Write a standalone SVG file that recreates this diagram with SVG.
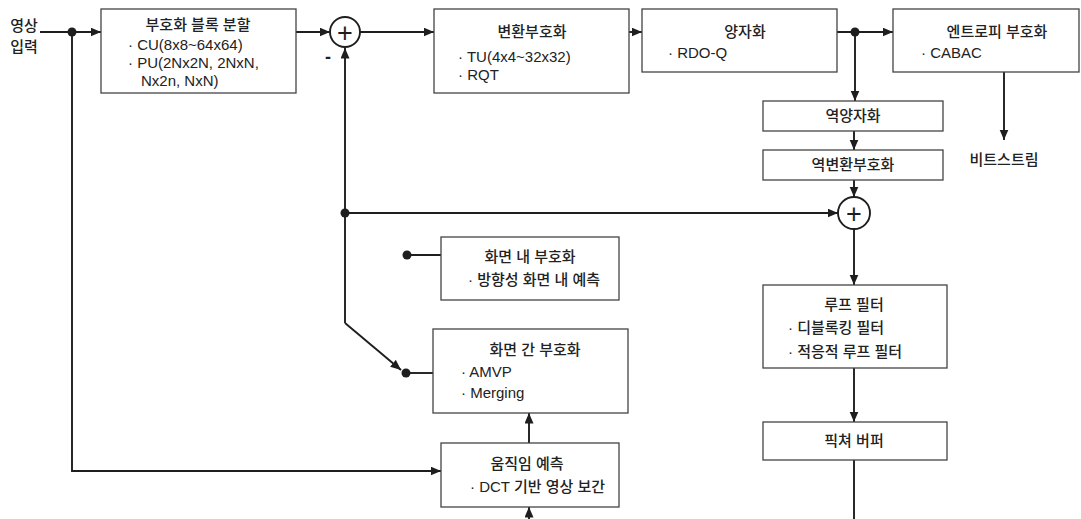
<svg xmlns="http://www.w3.org/2000/svg" width="1081" height="519" viewBox="0 0 1081 519">
<style>
text{font-family:"Liberation Sans","Noto Sans CJK KR",sans-serif;font-size:15px;font-weight:500;fill:#222}
.c{text-anchor:middle}
.box{fill:#fff;stroke:#444;stroke-width:1.3}
.ln{fill:none;stroke:#1e1e1e;stroke-width:1.9}
.dot{fill:#1e1e1e}
.sum{fill:#fff;stroke:#1e1e1e;stroke-width:1.9}
.plus{font-family:"Liberation Sans",sans-serif;font-size:27px;font-weight:normal;text-anchor:middle;fill:#1e1e1e}
</style>
<defs>
<marker id="ah" markerUnits="userSpaceOnUse" markerWidth="11" markerHeight="10" refX="10.5" refY="4.5" orient="auto">
<path d="M0,0 L10.5,4.5 L0,9 z" fill="#1e1e1e"/>
</marker>
</defs>
<rect width="1081" height="519" fill="#fff"/>

<g id="connectors">
<path class="ln" d="M40,32 H101" marker-end="url(#ah)"/>
<path class="ln" d="M296,32 H330" marker-end="url(#ah)"/>
<path class="ln" d="M360,32 H434" marker-end="url(#ah)"/>
<path class="ln" d="M629,32 H642" marker-end="url(#ah)"/>
<path class="ln" d="M837,32 H893" marker-end="url(#ah)"/>
<path class="ln" d="M855,32 V101" marker-end="url(#ah)"/>
<path class="ln" d="M1004,72 V140" marker-end="url(#ah)"/>
<path class="ln" d="M854,131 V150" marker-end="url(#ah)"/>
<path class="ln" d="M854,180 V197" marker-end="url(#ah)"/>
<path class="ln" d="M345,213 H838" marker-end="url(#ah)"/>
<path class="ln" d="M854,229 V285" marker-end="url(#ah)"/>
<path class="ln" d="M854,368 V422" marker-end="url(#ah)"/>
<path class="ln" d="M854,460 V519"/>
<path class="ln" d="M345,323 V48" marker-end="url(#ah)"/>
<path class="ln" d="M345,323 L401,370" marker-end="url(#ah)"/>
<path class="ln" d="M407,255 H441"/>
<path class="ln" d="M406,373 H433"/>
<path class="ln" d="M72,32 V471 H441" marker-end="url(#ah)"/>
<path class="ln" d="M529,443 V413" marker-end="url(#ah)"/>
<path class="ln" d="M529,519 V507" marker-end="url(#ah)"/>
<circle class="dot" cx="72" cy="32" r="4.5"/>
<circle class="dot" cx="855" cy="32" r="4.5"/>
<circle class="dot" cx="345" cy="213" r="4.5"/>
<circle class="dot" cx="407" cy="255" r="4.5"/>
<circle class="dot" cx="406" cy="373" r="4.5"/>
</g>

<g id="input">
<text x="24" y="31" class="c">영상</text>
<text x="24" y="52" class="c">입력</text>
</g>

<g id="partition">
<rect class="box" x="101" y="9" width="195" height="84"/>
<text x="198" y="30" class="c">부호화 블록 분할</text>
<text x="128" y="50">· CU(8x8~64x64)</text>
<text x="128" y="68">· PU(2Nx2N, 2NxN,</text>
<text x="141" y="86">Nx2n, NxN)</text>
</g>

<g id="sum1">
<circle class="sum" cx="345" cy="32" r="15"/>
<text x="345" y="41.5" class="plus">+</text>
<text x="328" y="63" style="font-size:18px;font-weight:bold" class="c">-</text>
</g>

<g id="transform">
<rect class="box" x="434" y="9" width="195" height="84"/>
<text x="532" y="37" class="c">변환부호화</text>
<text x="458" y="62">· TU(4x4~32x32)</text>
<text x="458" y="80">· RQT</text>
</g>

<g id="quant">
<rect class="box" x="642" y="9" width="195" height="63"/>
<text x="745" y="37" class="c">양자화</text>
<text x="668" y="58">· RDO-Q</text>
</g>

<g id="entropy">
<rect class="box" x="893" y="9" width="186" height="63"/>
<text x="997" y="37" class="c">엔트로피 부호화</text>
<text x="921" y="58">· CABAC</text>
</g>

<g id="bitstream">
<text x="1004" y="165" class="c">비트스트림</text>
</g>

<g id="invquant">
<rect class="box" x="763" y="101" width="180" height="30"/>
<text x="853" y="121" class="c">역양자화</text>
</g>

<g id="invtransform">
<rect class="box" x="763" y="150" width="180" height="30"/>
<text x="853" y="170" class="c">역변환부호화</text>
</g>

<g id="sum2">
<circle class="sum" cx="854" cy="213" r="16"/>
<text x="854" y="222.5" class="plus">+</text>
</g>

<g id="intra">
<rect class="box" x="441" y="237" width="178" height="63"/>
<text x="530" y="262" class="c">화면 내 부호화</text>
<text x="468" y="285">· 방향성 화면 내 예측</text>
</g>

<g id="inter">
<rect class="box" x="433" y="329" width="195" height="84"/>
<text x="535" y="355" class="c">화면 간 부호화</text>
<text x="461" y="377">· AMVP</text>
<text x="461" y="398">· Merging</text>
</g>

<g id="motion">
<rect class="box" x="441" y="443" width="178" height="64"/>
<text x="527" y="469" class="c">움직임 예측</text>
<text x="470" y="492">· DCT 기반 영상 보간</text>
</g>

<g id="loopfilter">
<rect class="box" x="763" y="285" width="184" height="83"/>
<text x="854" y="310" class="c">루프 필터</text>
<text x="788" y="333">· 디블록킹 필터</text>
<text x="788" y="357">· 적응적 루프 필터</text>
</g>

<g id="picbuffer">
<rect class="box" x="763" y="422" width="184" height="38"/>
<text x="854" y="446" class="c">픽쳐 버퍼</text>
</g>
</svg>
